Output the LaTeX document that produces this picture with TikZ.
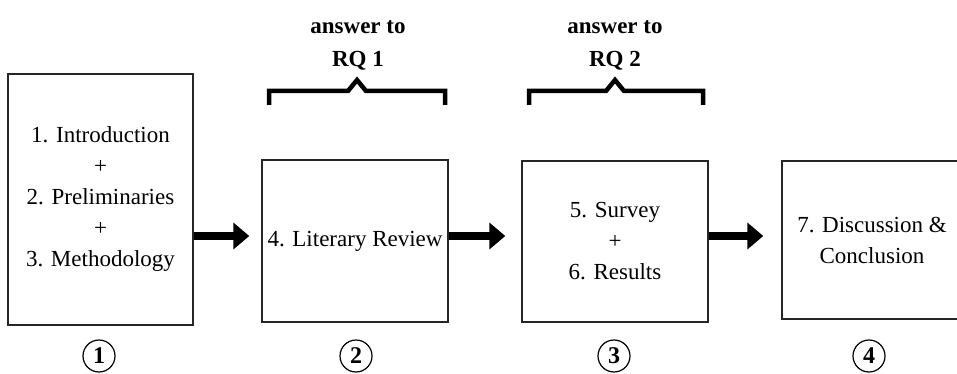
\documentclass[tikz,border=0pt]{standalone}
\usepackage{fontspec}
\setmainfont{Liberation Serif}
\usetikzlibrary{arrows.meta}
\begin{document}
\begin{tikzpicture}[x=1pt,y=-1pt,
  box/.style={draw=black!85, line width=1.4pt, minimum width=#1, inner sep=0pt, align=center,
     font=\fontsize{23}{31}\selectfont},
  flow/.style={line width=8pt, -{Triangle[length=16pt,width=26pt]}},
  brace/.style={line width=4.5pt, line cap=butt, line join=miter},
  rq/.style={font=\fontsize{23}{33}\selectfont\bfseries, align=center},
  num/.style={draw, circle, line width=1.2pt, minimum size=32pt, inner sep=0pt,
     font=\fontsize{24}{24}\selectfont\bfseries}]
\useasboundingbox (0,0) rectangle (957,374);
\clip (0,0) rectangle (957,374);
\node[box=185pt, minimum height=251pt] (b1) at (100.5,199.5)
  {1. Introduction\\+\\2. Preliminaries\\+\\3. Methodology};
\node[box=186pt, minimum height=162pt] (b2) at (355,241) {4. Literary Review};
\node[box=186pt, minimum height=161pt] (b3) at (615,241.5) {5. Survey\\+\\6. Results};
\node[box=184pt, minimum height=158pt] (b4) at (874,240) {};
\node[font=\fontsize{23}{31}\selectfont, align=center] (t4) at (872,240) {7. Discussion \&\\Conclusion};
\draw[flow] (b1.east |- 0,236) -- ([xshift=-12pt]b2.west |- 0,236);
\draw[flow] (b2.east |- 0,236) -- ([xshift=-16pt]b3.west |- 0,236);
\draw[flow] (b3.east |- 0,236) -- ([xshift=-18pt]b4.west |- 0,236);
\coordinate (l1) at (269,105);
\coordinate (r1) at (445,105);
\draw[brace] (l1) -- (269,91) -- (348,91) -- (357,80) -- (366,91) -- (445,91) -- (r1);
\node[rq] (q1) at (358,45) {answer to\\RQ 1};
\coordinate (l2) at (529,105);
\coordinate (r2) at (703,105);
\draw[brace] (l2) -- (529,91) -- (606,91) -- (615,80) -- (624,91) -- (703,91) -- (r2);
\node[rq] (q2) at (615,45) {answer to\\RQ 2};
\node[num] (n1) at (99,356) {1};
\node[num] (n2) at (356,356) {2};
\node[num] (n3) at (614,356) {3};
\node[num] (n4) at (869,356) {4};
\end{tikzpicture}
\end{document}
